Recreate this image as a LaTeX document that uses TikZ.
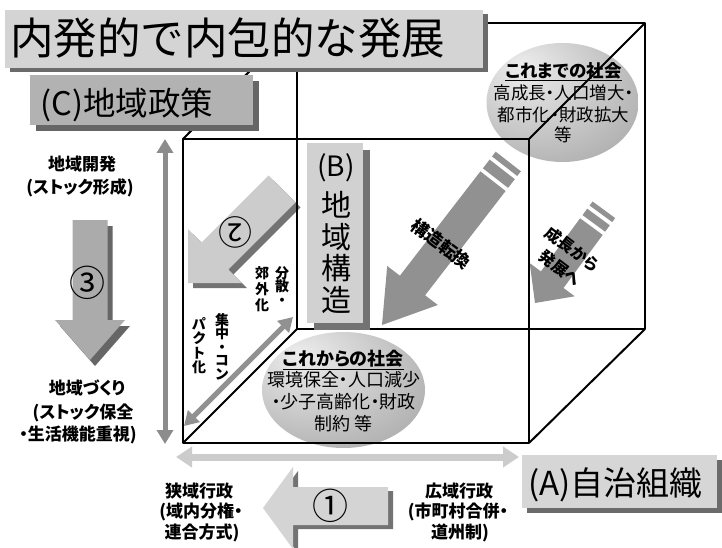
\documentclass[tikz,border=0pt]{standalone}
\usepackage{fontspec}
\setmainfont{Noto Sans CJK JP}[RawFeature=+palt]
\newfontfamily\fixjp{Noto Sans CJK JP}
\usetikzlibrary{arrows.meta,shapes.geometric}
\pgfdeclareradialshading{eggshade}{\pgfpoint{-14bp}{16bp}}{color(0bp)=(black!7); color(22bp)=(black!21); color(48bp)=(black!38); color(75bp)=(black!52)}
\tikzset{
  lbl/.style={inner sep=0pt, font=\fontsize{#1}{#1}\selectfont, text height={0.88*#1pt}, text depth={0.12*#1pt}},
  lbb/.style={inner sep=0pt, font=\fontsize{#1}{#1}\selectfont\bfseries, text height={0.88*#1pt}, text depth={0.12*#1pt}},
  cubeline/.style={line width=2pt, black, line join=round},
  bigarrow/.style={fill=black!43},
  shadowfill/.style={fill=black!55},
  soc/.style={ellipse, shade, shading=eggshade, inner sep=0pt},
  dbl/.style={line width=#1, {Triangle[width=16pt,length=14pt]}-{Triangle[width=16pt,length=14pt]}},
}
\begin{document}
\begin{tikzpicture}[x=1pt,y=-1pt]
\useasboundingbox (0,0) rectangle (722,548);
\fill[white] (0,0) rectangle (722,548);

% society ellipses
\node[soc, minimum width=152pt, minimum height=119pt] (soc1) at (562.5,102.5) {};
\node[soc, minimum width=163pt, minimum height=116pt] (soc2) at (343.5,390) {};

% structural change arrow
\fill[bigarrow] (382,325) -- (437.8,305.0) -- (425.1,295.3) -- (505.6,191.0) -- (480.4,171.4) -- (399.9,275.7) -- (387.2,266.0) -- cycle;
\fill[bigarrow] (508.1,187.9) -- (514.8,179.2) -- (489.6,159.6) -- (482.9,168.3) -- cycle;
\fill[bigarrow] (517.2,176.0) -- (520.9,171.3) -- (495.7,151.7) -- (492.0,156.4) -- cycle;

% growth to development arrow
\fill[bigarrow] (535,303) -- (574.7,296.3) -- (563.5,288.0) -- (602.7,234.9) -- (580.1,218.3) -- (540.9,271.4) -- (529.7,263.1) -- cycle;
\fill[bigarrow] (605.1,231.7) -- (609.8,225.3) -- (587.2,208.7) -- (582.5,215.1) -- cycle;
\fill[bigarrow] (612.2,222.1) -- (615.2,218.1) -- (592.6,201.5) -- (589.6,205.5) -- cycle;

% arrow 2
\fill[shadowfill, shift={(5,5)}] (188,283) -- (241.8,283.0) -- (228.3,269.5) -- (295.5,202.3) -- (268.7,175.5) -- (201.5,242.7) -- (188.0,229.2) -- cycle;
\fill[black!20] (188,283) -- (241.8,283.0) -- (228.3,269.5) -- (295.5,202.3) -- (268.7,175.5) -- (201.5,242.7) -- (188.0,229.2) -- cycle;

% arrow 3
\fill[black!60, shift={(5,6)}] (72.5,220) -- (107.5,220) -- (107.5,320) -- (125,320) -- (90,360) -- (55,320) -- (72.5,320) -- cycle;
\fill[black!33] (72.5,220) -- (107.5,220) -- (107.5,320) -- (125,320) -- (90,360) -- (55,320) -- (72.5,320) -- cycle;

% arrow 1
\fill[shadowfill, shift={(5,4)}] (263,508) -- (293,467) -- (293,487) -- (388,487) -- (388,525) -- (293,525) -- (293,549) -- cycle;
\fill[black!17] (263,508) -- (293,467) -- (293,487) -- (388,487) -- (388,525) -- (293,525) -- (293,549) -- cycle;

% double arrows
\coordinate (vtop) at (165,139);
\coordinate (vbot) at (165,444);
\coordinate (dlo) at (184,426);
\coordinate (dhi) at (293,317);
\coordinate (hl) at (176,457);
\coordinate (hr) at (519,457);
\draw[dbl=5pt, black!45] (vtop) -- (vbot);
\draw[dbl=5pt, black!43] (dlo) -- (dhi);
\draw[line width=7pt, black!20, {Triangle[width=20pt,length=16pt]}-{Triangle[width=20pt,length=16pt]}] (hl) -- (hr);

% cube
\coordinate (f1) at (183,139);
\coordinate (f2) at (529,139);
\coordinate (f3) at (529,443);
\coordinate (f4) at (183,443);
\coordinate (b1) at (297,23);
\coordinate (b2) at (645,23);
\coordinate (b3) at (645,329);
\coordinate (b4) at (297,329);
\draw[cubeline] (b1) -- (b2) -- (b3) -- (b4) -- cycle;
\draw[cubeline] (f1) -- (f2) -- (f3) -- (f4) -- cycle;
\draw[cubeline] (f1) -- (b1) (f2) -- (b2) (f3) -- (b3) (f4) -- (b4);

% boxes
\fill[black!58] (10,14) rectangle (488,72);
\fill[black!17] (5,10) rectangle (483,68);
\fill[black!60] (36,81) rectangle (259,131);
\fill[black!30] (30,75) rectangle (253,125);
\fill[black!55] (314,150) rectangle (370,330);
\fill[black!18] (307,143) rectangle (363,323);
\fill[black!58] (527,460) rectangle (722,513);
\fill[black!16] (522,455) rectangle (717,508);

% box texts
\node[lbl=43.5, font=\fontsize{43.5}{43.5}\selectfont\fixjp] (title) at (227.5,38) {内発的で内包的な発展};
\node[lbl=32.5] (polC) at (127,103) {(C)地域政策};
\node[lbl=28] (strB) at (336,166) {(B)};
\node[lbl=30] (strB1) at (336,205) {地};
\node[lbl=30] (strB2) at (336,237) {域};
\node[lbl=30] (strB3) at (336,268.5) {構};
\node[lbl=30] (strB4) at (336,300) {造};
\node[lbl=33] (orgA) at (615.5,483) {(A)自治組織};

% ellipse texts
\node[lbb=17.5] (s1a) at (563.5,70.5) {\underline{これまでの社会}};
\node[lbl=17.5] (s1b) at (563.5,93) {高成長・人口増大・};
\node[lbl=17.5] (s1c) at (563.5,114.5) {都市化・財政拡大};
\node[lbl=17.5] (s1d) at (563.5,135) {等};
\node[lbb=18] (s2a) at (343.5,359) {\underline{これからの社会}};
\node[lbl=18] (s2b) at (343.5,380) {環境保全・人口減少};
\node[lbl=18] (s2c) at (343.5,401.5) {・少子高齢化・財政};
\node[lbl=18] (s2d) at (343.5,423.5) {制約 等};

% left texts
\node[lbb=17] (l1) at (82,164) {地域開発};
\node[lbb=17] (l2) at (80,187) {(ストック形成)};
\node[lbb=17] (l3) at (87,388) {地域づくり};
\node[lbb=17] (l4) at (83,412) {(ストック保全};
\node[lbb=17] (l5) at (78,434) {・生活機能重視)};
\node[lbl=36, font=\fontsize{36}{36}\selectfont\fixjp] (n3) at (87,283) {③};

% bottom texts
\node[lbb=17] (w1) at (199,491) {狭域行政};
\node[lbb=17] (w2) at (201,511) {(域内分権・};
\node[lbb=17] (w3) at (202,532) {連合方式)};
\node[lbb=17] (g1) at (459,491) {広域行政};
\node[lbb=17] (g2) at (458,511) {(市町村合併・};
\node[lbb=17] (g3) at (460,532) {道州制)};
\node[lbl=36, font=\fontsize{36}{36}\selectfont\fixjp] (n1) at (330,506) {①};

% arrow 2 texts
\node[lbl=34, font=\fontsize{34}{34}\selectfont\fixjp, rotate=180] (n2) at (235,232) {②};
\node[lbb=14] (v1a) at (282,273) {分};
\node[lbb=14] (v1b) at (282,286.5) {散};
\node[lbb=14] (v1c) at (282,300) {・};
\node[lbb=14] (v2a) at (262,273) {郊};
\node[lbb=14] (v2b) at (262,289) {外};
\node[lbb=14] (v2c) at (262,305) {化};
\node[lbb=14] (v3a) at (222,320) {集};
\node[lbb=14] (v3b) at (222,333.5) {中};
\node[lbb=14] (v3c) at (222,347) {・};
\node[lbb=14] (v3d) at (222,360.5) {コ};
\node[lbb=14] (v3e) at (222,374) {ン};
\node[lbb=14] (v4a) at (199,324) {パ};
\node[lbb=14] (v4b) at (199,338.5) {ク};
\node[lbb=14] (v4c) at (199,353) {ト};
\node[lbb=14] (v4d) at (199,367.5) {化};

% rotated arrow labels
\node[lbb=17.5, rotate=-37] (chg) at (441,244) {構造転換};
\node[lbb=16, rotate=-37] (gr1) at (572,249) {成長から};
\node[lbb=16, rotate=-37] (gr2) at (560,268) {発展へ};
\end{tikzpicture}
\end{document}
